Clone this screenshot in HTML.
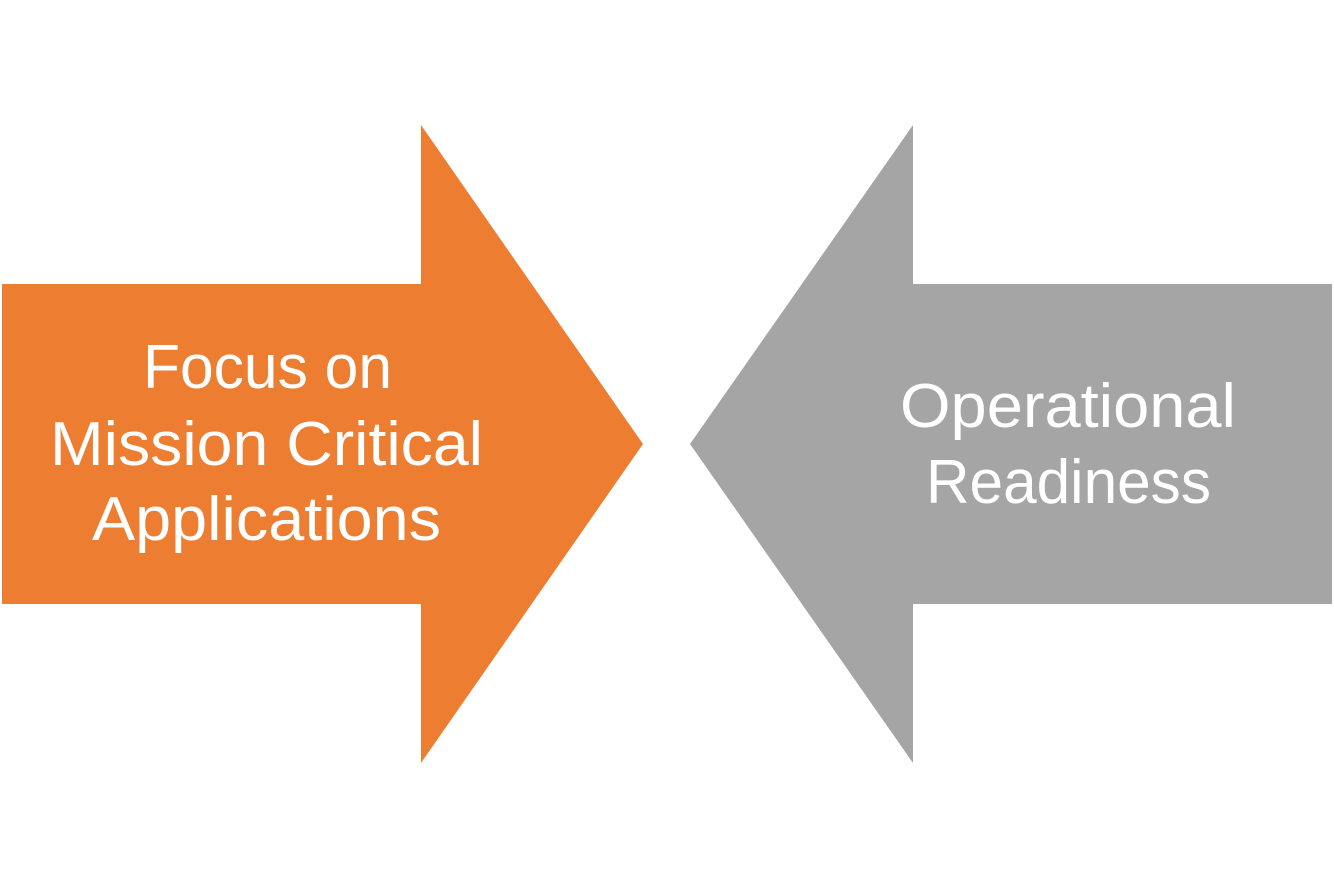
<!DOCTYPE html>
<html><head><meta charset="utf-8"><style>html,body{margin:0;padding:0;background:#fff;}svg{display:block}</style></head>
<body>
<svg width="1334" height="889" viewBox="0 0 1334 889" xmlns="http://www.w3.org/2000/svg">
<polygon points="2,284 421,284 421,125 643,444 421,763 421,604 2,604" fill="#ED7D31"/>
<polygon points="1332,284 913,284 913,125 690,444 913,763 913,604 1332,604" fill="#A5A5A5"/>
<g font-family="Liberation Sans, sans-serif" font-size="62" fill="#fff">
<text x="143" y="388" textLength="249" lengthAdjust="spacingAndGlyphs">Focus on</text>
<text x="50" y="465" textLength="433" lengthAdjust="spacingAndGlyphs">Mission Critical</text>
<text x="92" y="540" textLength="349" lengthAdjust="spacingAndGlyphs">Applications</text>
<text x="900" y="427" textLength="336" lengthAdjust="spacingAndGlyphs">Operational</text>
<text x="926" y="503" textLength="285" lengthAdjust="spacingAndGlyphs">Readiness</text>
</g>
</svg>
</body></html>
